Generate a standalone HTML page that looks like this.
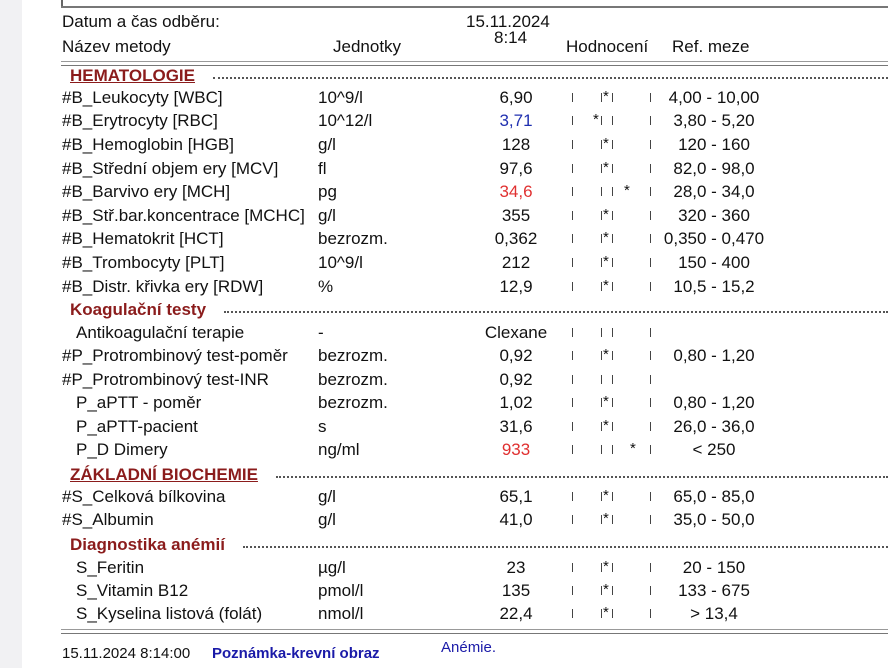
<!DOCTYPE html>
<html><head><meta charset="utf-8">
<style>
body{margin:0;width:888px;height:668px;background:#fff;position:relative;overflow:hidden;font-family:"Liberation Sans",Arial,sans-serif;font-size:17px;color:#111}
.a{position:absolute;white-space:nowrap;line-height:20px}
.strip{position:absolute;left:0;top:0;width:22px;height:668px;background:#f1f1f3}
.sec{font-weight:bold;color:#8b1c1c}
.dots{position:absolute;height:0;border-top:2px dotted #555;right:0}
.c{transform:translateX(-50%)}
</style></head><body>
<div class="strip"></div>
<div style="position:absolute;left:61px;top:0;width:2px;height:7px;background:#666"></div>
<div style="position:absolute;left:61px;right:0;top:6px;height:2px;background:#777"></div>
<div class="a" style="left:62px;top:12px">Datum a čas odběru:</div>
<div class="a" style="left:466px;top:12px">15.11.2024</div>
<div class="a" style="left:494px;top:28px">8:14</div>
<div class="a" style="left:62px;top:37px">Název metody</div>
<div class="a" style="left:333px;top:37px">Jednotky</div>
<div class="a" style="left:566px;top:37px">Hodnocení</div>
<div class="a" style="left:672px;top:37px">Ref. meze</div>
<div style="position:absolute;left:61px;right:0;top:61px;height:3px;border-top:1px solid #999;border-bottom:1px solid #777"></div>
<div style="position:absolute;left:61px;right:0;top:629px;height:3px;border-top:1px solid #999;border-bottom:1px solid #777"></div>
<div class="a" style="left:62px;top:644px;font-size:15px">15.11.2024 8:14:00</div>
<div class="a" style="left:212px;top:644px;font-size:15px;font-weight:bold;color:#1a1aa8">Poznámka-krevní obraz</div>
<div class="a" style="left:441px;top:638px;font-size:15px;color:#1a1aa8">Anémie.</div>
<div id="rows"></div>
<script>
const sections=[["HEMATOLOGIE",76,true,70],["Koagulační testy",310,false,70],["ZÁKLADNÍ BIOCHEMIE",475,true,70],["Diagnostika anémií",545,false,70]];
const names=["#B_Leukocyty [WBC]","#B_Erytrocyty [RBC]","#B_Hemoglobin [HGB]","#B_Střední objem ery [MCV]","#B_Barvivo ery [MCH]","#B_Stř.bar.koncentrace [MCHC]","#B_Hematokrit [HCT]","#B_Trombocyty [PLT]","#B_Distr. křivka ery [RDW]","Antikoagulační terapie","#P_Protrombinový test-poměr","#P_Protrombinový test-INR","P_aPTT - poměr","P_aPTT-pacient","P_D Dimery","#S_Celková bílkovina","#S_Albumin","S_Feritin","S_Vitamin B12","S_Kyselina listová (folát)"];
const units=["10^9/l","10^12/l","g/l","fl","pg","g/l","bezrozm.","10^9/l","%","-","bezrozm.","bezrozm.","bezrozm.","s","ng/ml","g/l","g/l","µg/l","pmol/l","nmol/l"];
const values=["6,90","3,71","128","97,6","34,6","355","0,362","212","12,9","Clexane","0,92","0,92","1,02","31,6","933","65,1","41,0","23","135","22,4"];
const flags=["n","l","n","n","h","n","n","n","n","","n","","n","n","hh","n","n","n","n","n"];
const refs=["4,00 - 10,00","3,80 - 5,20","120 - 160","82,0 - 98,0","28,0 - 34,0","320 - 360","0,350 - 0,470","150 - 400","10,5 - 15,2","","0,80 - 1,20","","0,80 - 1,20","26,0 - 36,0","< 250","65,0 - 85,0","35,0 - 50,0","20 - 150","133 - 675","> 13,4"];
const tops=[88,111,135,159,182,206,229,253,277,323,346,370,393,417,440,487,510,558,581,604];
const indent=[0,0,0,0,0,0,0,0,0,14,0,0,14,14,14,0,0,14,14,14];
const root=document.getElementById('rows');
function mk(txt,css){const d=document.createElement('div');d.className='a';d.textContent=txt;d.style.cssText=css;root.appendChild(d);return d;}
sections.forEach(s=>{
 const d=mk(s[0],'left:'+s[3]+'px;top:'+(s[1]-10)+'px;'+(s[2]?'text-decoration:underline;':''));
 d.classList.add('sec');
 
 
 const w=d.getBoundingClientRect().width;
 const l=document.createElement('div');l.className='dots';l.style.left=(s[3]+w+18)+'px';l.style.top=(s[1]+1)+'px';root.appendChild(l);
 
 
});
names.forEach((n,i)=>{
 const t=tops[i];
 let d=mk(n,'left:'+(62+indent[i])+'px;top:'+t+'px');
 
 
 d=mk(units[i],'left:318px;top:'+t+'px');
 
 
 const col=(flags[i]=='l')?'#2030b0':(flags[i]=='h'||flags[i]=='hh')?'#e03030':'#111';
 d=mk(values[i],'left:516px;top:'+t+'px;color:'+col);d.classList.add('c');
 
 
 [572,601,612,650].forEach(x=>{const b=document.createElement('div');b.style.cssText='position:absolute;left:'+x+'px;top:'+(t+5)+'px;width:1px;height:9px;background:#444';root.appendChild(b);
  
  });
 if(flags[i]){const sx={n:603,l:593,h:624,hh:630}[flags[i]];
  d=mk('*','left:'+sx+'px;top:'+(t-1)+'px;font-size:15px');
  
  }
 if(refs[i]){d=mk(refs[i],'left:714px;top:'+t+'px');d.classList.add('c');
  
  }
});
</script>
</body></html>
